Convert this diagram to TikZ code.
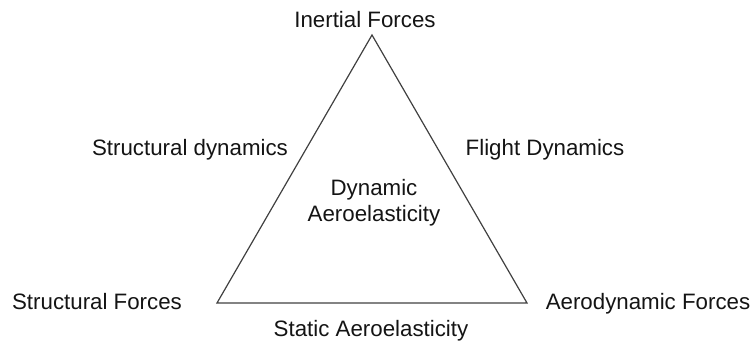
\documentclass[tikz,border=0pt]{standalone}
\usepackage{fontspec}
\setmainfont{Liberation Sans}
\begin{document}
\begin{tikzpicture}[x=1pt,y=1pt,
  lbl/.style={anchor=base, inner sep=0pt, font=\fontsize{22.3}{26}\selectfont, text=black!92},
  edge/.style={draw=black!75, line width=1.2pt, line join=miter}]
  \useasboundingbox (0,0) rectangle (752,344);
  % triangle corners
  \coordinate (top) at (372,309);
  \coordinate (bl) at (217,41);
  \coordinate (br) at (527,41);
  \draw[edge] (top) -- (bl) -- (br) -- cycle;
  % corner labels
  \node[lbl] (inertial) at (365,316) {Inertial Forces};
  \node[lbl] (structf) at (97,34) {Structural Forces};
  \node[lbl] (aerof) at (648,34) {Aerodynamic Forces};
  % side labels
  \node[lbl] (structdyn) at (190,188) {Structural dynamics};
  \node[lbl] (flightdyn) at (545,188) {Flight Dynamics};
  \node[lbl] (static) at (371,7) {Static Aeroelasticity};
  % centre label
  \node[lbl, align=center] (dynamic) at (374,122) {Dynamic\\Aeroelasticity};
\end{tikzpicture}
\end{document}
